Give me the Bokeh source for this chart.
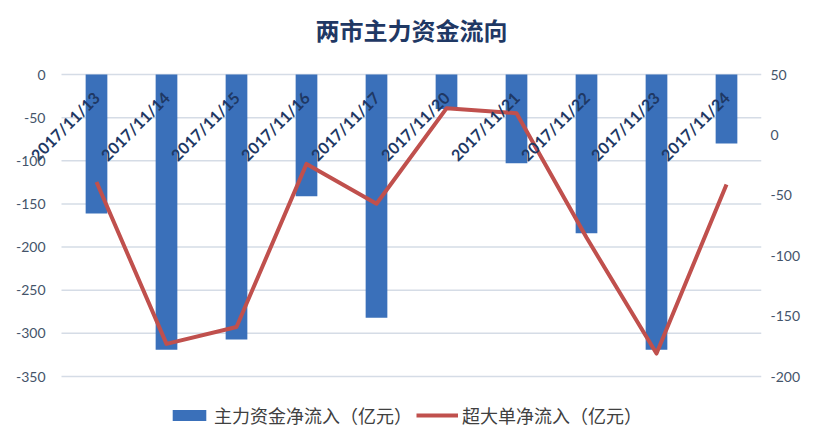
import math
from bokeh.plotting import figure
from bokeh.models import (ColumnDataSource, Range1d, LinearAxis,
                          Legend, LegendItem, FixedTicker, PrintfTickFormatter)
from bokeh.embed import file_html
from bokeh.resources import INLINE

# ---- data ----
categories = ["2017/11/13", "2017/11/14", "2017/11/15", "2017/11/16", "2017/11/17",
              "2017/11/20", "2017/11/21", "2017/11/22", "2017/11/23", "2017/11/24"]
main_inflow = [-161, -319, -307, -141, -282, -40, -103, -184, -319, -80]
super_inflow = [-39, -173, -159, -24, -57, 22, 18, -85, -181, -41]
left_ticks = [0, -50, -100, -150, -200, -250, -300, -350]
right_ticks = [50, 0, -50, -100, -150, -200]
title_text = "两市主力资金流向"
bar_label = "主力资金净流入（亿元）"
line_label = "超大单净流入（亿元）"

# ---- layout constants (canvas pixels) ----
W, H = 805, 428
LEFT, RIGHT = 8, 44                 # frame edges; value axis sits inside
PLOT_LEFT, PLOT_RIGHT = 61, W - RIGHT
FRAME_TOP, FRAME_BOTTOM = 55, H
GRID_TOP, GRID_BOTTOM = 74, 376     # pixel rows of the axis extremes
TITLE_LEFT = 315                    # left edge of the title text
LEGEND_LEFT = 168                   # left edge of the legend box
left_lo, left_hi = -350, 0
right_lo, right_hi = -200, 50
n = len(categories)
idx = list(range(n))
grid_px = GRID_BOTTOM - GRID_TOP
lpp = (left_hi - left_lo) / grid_px
rpp = (right_hi - right_lo) / grid_px
cpp = n / (PLOT_RIGHT - PLOT_LEFT)
x_lo, x_hi = -0.5, n - 0.5          # plot-area extent in category units
x_range = Range1d(x_lo - (PLOT_LEFT - LEFT) * cpp, x_hi)
left_range = Range1d(left_lo - (FRAME_BOTTOM - GRID_BOTTOM) * lpp,
                     left_hi + (GRID_TOP - FRAME_TOP) * lpp)
right_range = Range1d(right_lo - (FRAME_BOTTOM - GRID_BOTTOM) * rpp,
                      right_hi + (GRID_TOP - FRAME_TOP) * rpp)

src = ColumnDataSource(dict(x=idx, cat=categories, main=main_inflow, sup=super_inflow))
grid_src = ColumnDataSource(dict(y=left_ticks, x0=[x_lo] * len(left_ticks),
                                 x1=[x_hi] * len(left_ticks)))

p = figure(width=W, height=H, x_range=x_range, y_range=left_range,
           output_backend="svg", toolbar_location=None,
           x_axis_location=None, y_axis_location=None,
           min_border_left=LEFT, min_border_right=RIGHT,
           min_border_top=FRAME_TOP, min_border_bottom=0)
p.title.text = title_text
p.title.align = "left"
p.title.offset = TITLE_LEFT - LEFT
p.title.text_font = "Noto Sans CJK SC"
p.title.text_font_size = "24px"
p.title.text_font_style = "bold"
p.title.text_color = "#1F3864"
p.title.standoff = 18

p.outline_line_color = None
p.background_fill_color = "white"
p.border_fill_color = "white"
p.xgrid.visible = False
p.ygrid.visible = False

p.extra_y_ranges = {"right": right_range}

# horizontal gridlines across the plot area only
p.segment(x0="x0", x1="x1", y0="y", y1="y", source=grid_src,
          line_color="#D5DCE6", line_width=1.5)

# left value axis, drawn at the plot-area edge
ax_l = LinearAxis(fixed_location=x_lo, ticker=FixedTicker(ticks=left_ticks))
p.add_layout(ax_l, "left")
ax_r = LinearAxis(y_range_name="right", ticker=FixedTicker(ticks=right_ticks))
p.add_layout(ax_r, "right")
for ax in (ax_l, ax_r):
    ax.formatter = PrintfTickFormatter(format="%d")
    ax.axis_line_color = None
    ax.major_tick_line_color = None
    ax.minor_tick_line_color = None
    ax.major_label_text_font = "Lato"
    ax.major_label_text_font_size = "14px"
    ax.major_label_text_color = "#44546A"
ax_l.major_label_standoff = 10
ax_r.major_label_standoff = 3

# category axis crossing the value axis at 0 (labels inside the plot)
xa = LinearAxis(fixed_location=0, ticker=FixedTicker(ticks=idx),
                major_label_overrides={i: c for i, c in zip(idx, categories)})
p.add_layout(xa, "below")
xa.axis_line_color = None
xa.major_tick_line_color = None
xa.minor_tick_line_color = None
xa.major_label_orientation = math.pi / 4
xa.major_label_standoff = 14
xa.major_label_text_font = "Lato"
xa.major_label_text_font_style = "bold"
xa.major_label_text_font_size = "16px"
xa.major_label_text_color = "#1F3864"

bars = p.vbar(x="x", top=0, bottom="main", width=0.31, source=src,
              fill_color="#3A70BA", line_color=None)

ln = p.line(x="x", y="sup", source=src, y_range_name="right",
            line_color="#C0504D", line_width=4, line_join="round")

legend = Legend(items=[LegendItem(label=bar_label, renderers=[bars]),
                       LegendItem(label=line_label, renderers=[ln])],
                orientation="horizontal", location=(LEGEND_LEFT - LEFT, 0))
legend.label_text_font = "Noto Sans CJK SC"
legend.label_text_font_size = "18px"
legend.label_text_color = "#404040"
legend.glyph_width = 42
legend.glyph_height = 14
legend.border_line_color = None
legend.background_fill_color = None
legend.margin = 0
legend.padding = 2
legend.spacing = 4
legend.label_standoff = 4
p.add_layout(legend, "center")

open("out.html", "w").write(file_html(p, INLINE))
